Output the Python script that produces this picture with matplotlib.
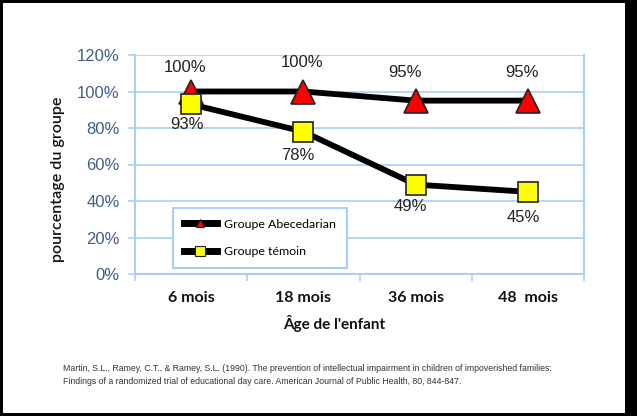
import matplotlib
matplotlib.use("Agg")
import matplotlib.pyplot as plt
from matplotlib.lines import Line2D
from matplotlib.patches import Rectangle

categories = ["6 mois", "18 mois", "36 mois", "48  mois"]
abecedarian = [100, 100, 95, 95]
temoin = [93, 78, 49, 45]
yticks = [0, 20, 40, 60, 80, 100, 120]
ytick_labels = ["0%", "20%", "40%", "60%", "80%", "100%", "120%"]
series_names = ["Groupe Abecedarian", "Groupe témoin"]
xlabel = "Âge de l'enfant"
ylabel = "pourcentage du groupe"
citation = ("Martin, S.L., Ramey, C.T., & Ramey, S.L. (1990). The prevention of intellectual impairment in children of impoverished families:\n"
            "Findings of a randomized trial of educational day care. American Journal of Public Health, 80, 844-847.")

# label placement (pixel offsets from the marker)
abc_label_offsets = [(-6, 24), (-1, 29), (-11, 28), (-6, 28)]
tem_label_offsets = [(-4, -20), (-6, -24), (-5, -22), (-5, -26)]

W, H = 637, 416
fig = plt.figure(figsize=(W / 100, H / 100), dpi=100)
fig.patch.set_facecolor("black")
fig.patches.append(Rectangle((3 / W, 3 / H), (625 - 3) / W, (413 - 3) / H,
                             transform=fig.transFigure, facecolor="white",
                             edgecolor="none", zorder=-5))

ax = fig.add_axes([135 / W, 1 - 274 / H, (584 - 135) / W, (274 - 55) / H])
ax.set_facecolor("white")
grid_c = "#A9CFF5"
x = list(range(len(categories)))
ax.set_xlim(-0.5, len(categories) - 0.5)
ax.set_ylim(0, 120)
ax.set_yticks(yticks)
ax.set_yticklabels(ytick_labels, fontfamily="Liberation Sans", fontsize=12, color="#3F5E8C")
ax.yaxis.grid(True, color=grid_c, linewidth=1.2)
ax.set_axisbelow(True)
ax.set_xticks([i + 0.5 for i in range(-1, len(categories))])
ax.set_xticklabels([])
ax.set_xticks(x, minor=True)
ax.set_xticklabels(categories, minor=True, fontfamily="Lato", fontweight="bold",
                   fontsize=11.5, color="#111111")
ax.tick_params(axis="x", which="minor", length=0, pad=12)
ax.tick_params(axis="x", which="major", length=5, color=grid_c, width=1.2)
ax.tick_params(axis="y", length=5, color=grid_c, width=1.2, pad=6)
for s in ["left", "bottom", "right"]:
    ax.spines[s].set_color(grid_c)
    ax.spines[s].set_linewidth(1.5)
ax.spines["top"].set_visible(False)

ax.plot(x, abecedarian, color="black", linewidth=4.2, marker="^", markersize=17,
        markerfacecolor="#FF0000", markeredgecolor="#222222", markeredgewidth=1.2,
        zorder=3, clip_on=False)
ax.plot(x, temoin, color="black", linewidth=4.2, marker="s", markersize=14,
        markerfacecolor="#FFFF00", markeredgecolor="#222222", markeredgewidth=1.2,
        zorder=4, clip_on=False)

lab_kw = dict(fontfamily="Liberation Sans", fontsize=12, color="#222222",
              ha="center", va="center", zorder=5, textcoords="offset pixels")
for i, v in enumerate(abecedarian):
    ax.annotate(f"{v}%", (i, v), xytext=abc_label_offsets[i], **lab_kw)
for i, v in enumerate(temoin):
    ax.annotate(f"{v}%", (i, v), xytext=tem_label_offsets[i], **lab_kw)

handles = [
    Line2D([], [], color="black", linewidth=5, marker="^", markersize=6,
           markerfacecolor="#FF0000", markeredgecolor="#222222", markeredgewidth=0.8),
    Line2D([], [], color="black", linewidth=5, marker="s", markersize=7,
           markerfacecolor="#FFFF00", markeredgecolor="#222222", markeredgewidth=0.8),
]
leg = ax.legend(handles, series_names, loc="lower left",
                bbox_to_anchor=((173 - 135) / (584 - 135), (274 - 268) / (274 - 55)),
                frameon=True, fancybox=False, edgecolor=grid_c, framealpha=1,
                prop={"family": "Lato", "size": 8.9}, handlelength=2.7,
                labelspacing=1.35, borderpad=0.85, handletextpad=0.6,
                borderaxespad=0)
leg.get_frame().set_linewidth(1.5)

fig.text(334 / W, 1 - 324 / H, xlabel, fontfamily="Lato", fontweight="bold",
         fontsize=11, ha="center", va="center", color="#111111")
fig.text(58 / W, 1 - 179 / H, ylabel, fontfamily="Lato", fontweight="semibold",
         fontsize=11.5, ha="center", va="center", rotation=90, color="#111111")
fig.text(63 / W, 1 - 375 / H, citation, fontfamily="Liberation Sans", fontsize=6.35,
         ha="left", va="center", color="#333333", linespacing=1.5)

fig.savefig("out.png", dpi=100, facecolor=fig.get_facecolor())
